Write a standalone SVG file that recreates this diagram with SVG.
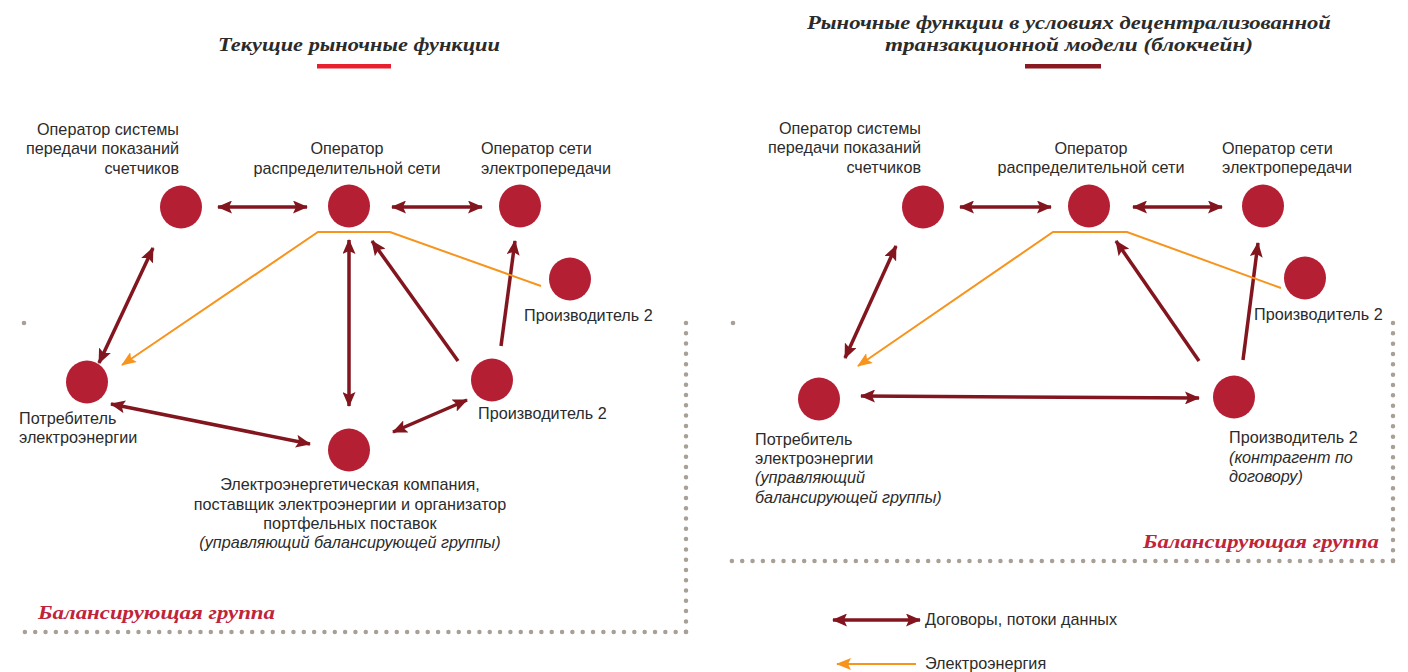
<svg xmlns="http://www.w3.org/2000/svg" width="1408" height="672" viewBox="0 0 1408 672">
<defs>
<style>
.lbl{font-family:"Liberation Sans",Arial,sans-serif;font-size:16.2px;fill:#2b2b2b}
.it{font-style:italic}
.title{font-family:"Liberation Serif","Times New Roman",serif;font-size:18.5px;font-weight:bold;font-style:italic;fill:#2b2b2b}
.bg{font-family:"Liberation Serif","Times New Roman",serif;font-size:18.5px;font-weight:bold;font-style:italic;fill:#c0243a}
.node{fill:#b51f34}
.ar{stroke:#82151e;stroke-width:3.5;fill:none}
.el{stroke:#f7941d;stroke-width:2;fill:none}
.dots{stroke:#a89f96;stroke-width:4.5;stroke-linecap:round;fill:none}
</style>
<marker id="ah" markerUnits="userSpaceOnUse" markerWidth="15" markerHeight="13" refX="14" refY="6.5" orient="auto-start-reverse">
<path d="M0,0 L15,6.5 L0,13 L3,6.5 z" fill="#82151e"/>
</marker>
<marker id="oh" markerUnits="userSpaceOnUse" markerWidth="15" markerHeight="12" refX="14" refY="6" orient="auto-start-reverse">
<path d="M0,0 L15,6 L0,12 L3,6 z" fill="#f7941d"/>
</marker>
</defs>
<rect width="1408" height="672" fill="#ffffff"/>

<!-- Left panel header -->
<text class="title" x="359" y="51" text-anchor="middle" textLength="282" lengthAdjust="spacingAndGlyphs">Текущие рыночные функции</text>
<rect x="317" y="64" width="74" height="4.5" fill="#e8202e"/>

<!-- Right panel header -->
<text class="title" x="1069" y="29" text-anchor="middle" textLength="524" lengthAdjust="spacingAndGlyphs">Рыночные функции в условиях децентрализованной</text>
<text class="title" x="1069" y="51" text-anchor="middle" textLength="368" lengthAdjust="spacingAndGlyphs">транзакционной модели (блокчейн)</text>
<rect x="1025" y="64" width="76" height="4.5" fill="#8a1a21"/>

<!-- Balancing group borders -->
<g id="balance-left">
<circle cx="24" cy="323" r="2.3" fill="#a89f96"/>
<path class="dots" d="M686,323 L686,632" stroke-dasharray="0 10.29"/>
<path class="dots" d="M686,632 L24,632" stroke-dasharray="0 10.33"/>
<text class="bg" x="38" y="619" textLength="237" lengthAdjust="spacingAndGlyphs">Балансирующая группа</text>
</g>
<g id="balance-right">
<circle cx="733" cy="323" r="2.3" fill="#a89f96"/>
<path class="dots" d="M1393,323 L1393,561" stroke-dasharray="0 10.33"/>
<path class="dots" d="M1393,561 L731,561" stroke-dasharray="0 10.33"/>
<text class="bg" x="1143" y="548" textLength="236" lengthAdjust="spacingAndGlyphs">Балансирующая группа</text>
</g>

<!-- Connectors -->
<g id="connectors">
<!-- left -->
<line class="ar" x1="218" y1="207" x2="307" y2="207" stroke-width="4" marker-start="url(#ah)" marker-end="url(#ah)"/>
<line class="ar" x1="392" y1="207" x2="482" y2="207" stroke-width="4" marker-start="url(#ah)" marker-end="url(#ah)"/>
<line class="ar" x1="153" y1="248" x2="99" y2="363" stroke-width="3" marker-start="url(#ah)" marker-end="url(#ah)"/>
<line class="ar" x1="349" y1="240" x2="349" y2="406" stroke-width="3" marker-start="url(#ah)" marker-end="url(#ah)"/>
<line class="ar" x1="458" y1="361" x2="372" y2="241" marker-end="url(#ah)"/>
<line class="ar" x1="501" y1="346" x2="515" y2="241" stroke-width="3" marker-end="url(#ah)"/>
<line class="ar" x1="111" y1="404" x2="310" y2="444" marker-start="url(#ah)" marker-end="url(#ah)"/>
<line class="ar" x1="467" y1="400" x2="393" y2="432" stroke-width="3" marker-start="url(#ah)" marker-end="url(#ah)"/>
<polyline class="el" points="541,286 390,232 318,232 122,365" marker-end="url(#oh)"/>
<!-- right -->
<line class="ar" x1="960" y1="207" x2="1051" y2="207" stroke-width="4" marker-start="url(#ah)" marker-end="url(#ah)"/>
<line class="ar" x1="1133" y1="207" x2="1222" y2="207" stroke-width="4" marker-start="url(#ah)" marker-end="url(#ah)"/>
<line class="ar" x1="896" y1="246" x2="845" y2="358" stroke-width="3" marker-start="url(#ah)" marker-end="url(#ah)"/>
<line class="ar" x1="1199" y1="361" x2="1116" y2="241" marker-end="url(#ah)"/>
<line class="ar" x1="1243" y1="360" x2="1258" y2="243" stroke-width="3" marker-end="url(#ah)"/>
<line class="ar" x1="861" y1="396" x2="1199" y2="398" stroke-width="4" marker-start="url(#ah)" marker-end="url(#ah)"/>
<polyline class="el" points="1281,288 1127,232 1053,232 858,366" marker-end="url(#oh)"/>
<!-- legend -->
<line class="ar" x1="833" y1="620" x2="920" y2="620" stroke-width="4" marker-start="url(#ah)" marker-end="url(#ah)"/>
<line class="el" x1="916" y1="664" x2="837" y2="664" stroke-width="2.5" marker-end="url(#oh)"/>
</g>

<!-- Left nodes -->
<g id="l-meter">
<ellipse class="node" cx="181" cy="207" rx="21" ry="21.5"/>
<text class="lbl" text-anchor="end"><tspan x="179" y="135">Оператор системы</tspan><tspan x="179" y="154">передачи показаний</tspan><tspan x="179" y="174">счетчиков</tspan></text>
</g>
<g id="l-dso">
<ellipse class="node" cx="349" cy="206" rx="21" ry="21.5"/>
<text class="lbl" text-anchor="middle"><tspan x="347" y="154">Оператор</tspan><tspan x="347" y="174">распределительной сети</tspan></text>
</g>
<g id="l-tso">
<ellipse class="node" cx="520" cy="206" rx="21" ry="21.5"/>
<text class="lbl"><tspan x="481" y="154">Оператор сети</tspan><tspan x="481" y="174">электропередачи</tspan></text>
</g>
<g id="l-prod-top">
<ellipse class="node" cx="570" cy="279" rx="21" ry="21.5"/>
<text class="lbl" x="524" y="321">Производитель 2</text>
</g>
<g id="l-consumer">
<ellipse class="node" cx="87" cy="382" rx="21" ry="21.5"/>
<text class="lbl"><tspan x="19" y="424">Потребитель</tspan><tspan x="19" y="443">электроэнергии</tspan></text>
</g>
<g id="l-prod">
<ellipse class="node" cx="492" cy="380" rx="21" ry="21.5"/>
<text class="lbl" x="478" y="419">Производитель 2</text>
</g>
<g id="l-company">
<ellipse class="node" cx="349" cy="450" rx="21" ry="21.5"/>
<text class="lbl" text-anchor="middle"><tspan x="350" y="490">Электроэнергетическая компания,</tspan><tspan x="350" y="510">поставщик электроэнергии и организатор</tspan><tspan x="350" y="529">портфельных поставок</tspan><tspan class="it" x="350" y="548">(управляющий балансирующей группы)</tspan></text>
</g>

<!-- Right nodes -->
<g id="r-meter">
<ellipse class="node" cx="923" cy="207" rx="21" ry="21.5"/>
<text class="lbl" text-anchor="end"><tspan x="921" y="134">Оператор системы</tspan><tspan x="921" y="153">передачи показаний</tspan><tspan x="921" y="173">счетчиков</tspan></text>
</g>
<g id="r-dso">
<ellipse class="node" cx="1089" cy="206" rx="21" ry="21.5"/>
<text class="lbl" text-anchor="middle"><tspan x="1091" y="154">Оператор</tspan><tspan x="1091" y="173">распределительной сети</tspan></text>
</g>
<g id="r-tso">
<ellipse class="node" cx="1263" cy="206" rx="21" ry="21.5"/>
<text class="lbl"><tspan x="1222" y="154">Оператор сети</tspan><tspan x="1222" y="173">электропередачи</tspan></text>
</g>
<g id="r-prod-top">
<ellipse class="node" cx="1305" cy="278" rx="21" ry="21.5"/>
<text class="lbl" x="1254" y="320">Производитель 2</text>
</g>
<g id="r-consumer">
<ellipse class="node" cx="819" cy="399" rx="21" ry="21.5"/>
<text class="lbl"><tspan x="755" y="445">Потребитель</tspan><tspan x="755" y="464">электроэнергии</tspan><tspan class="it" x="755" y="483">(управляющий</tspan><tspan class="it" x="755" y="503">балансирующей группы)</tspan></text>
</g>
<g id="r-prod">
<ellipse class="node" cx="1234" cy="397" rx="21" ry="21.5"/>
<text class="lbl"><tspan x="1229" y="443">Производитель 2</tspan><tspan class="it" x="1229" y="463">(контрагент по</tspan><tspan class="it" x="1229" y="482">договору)</tspan></text>
</g>

<!-- Legend -->
<g id="legend">
<text class="lbl" x="925" y="625">Договоры, потоки данных</text>
<text class="lbl" x="925" y="669">Электроэнергия</text>
</g>
</svg>
